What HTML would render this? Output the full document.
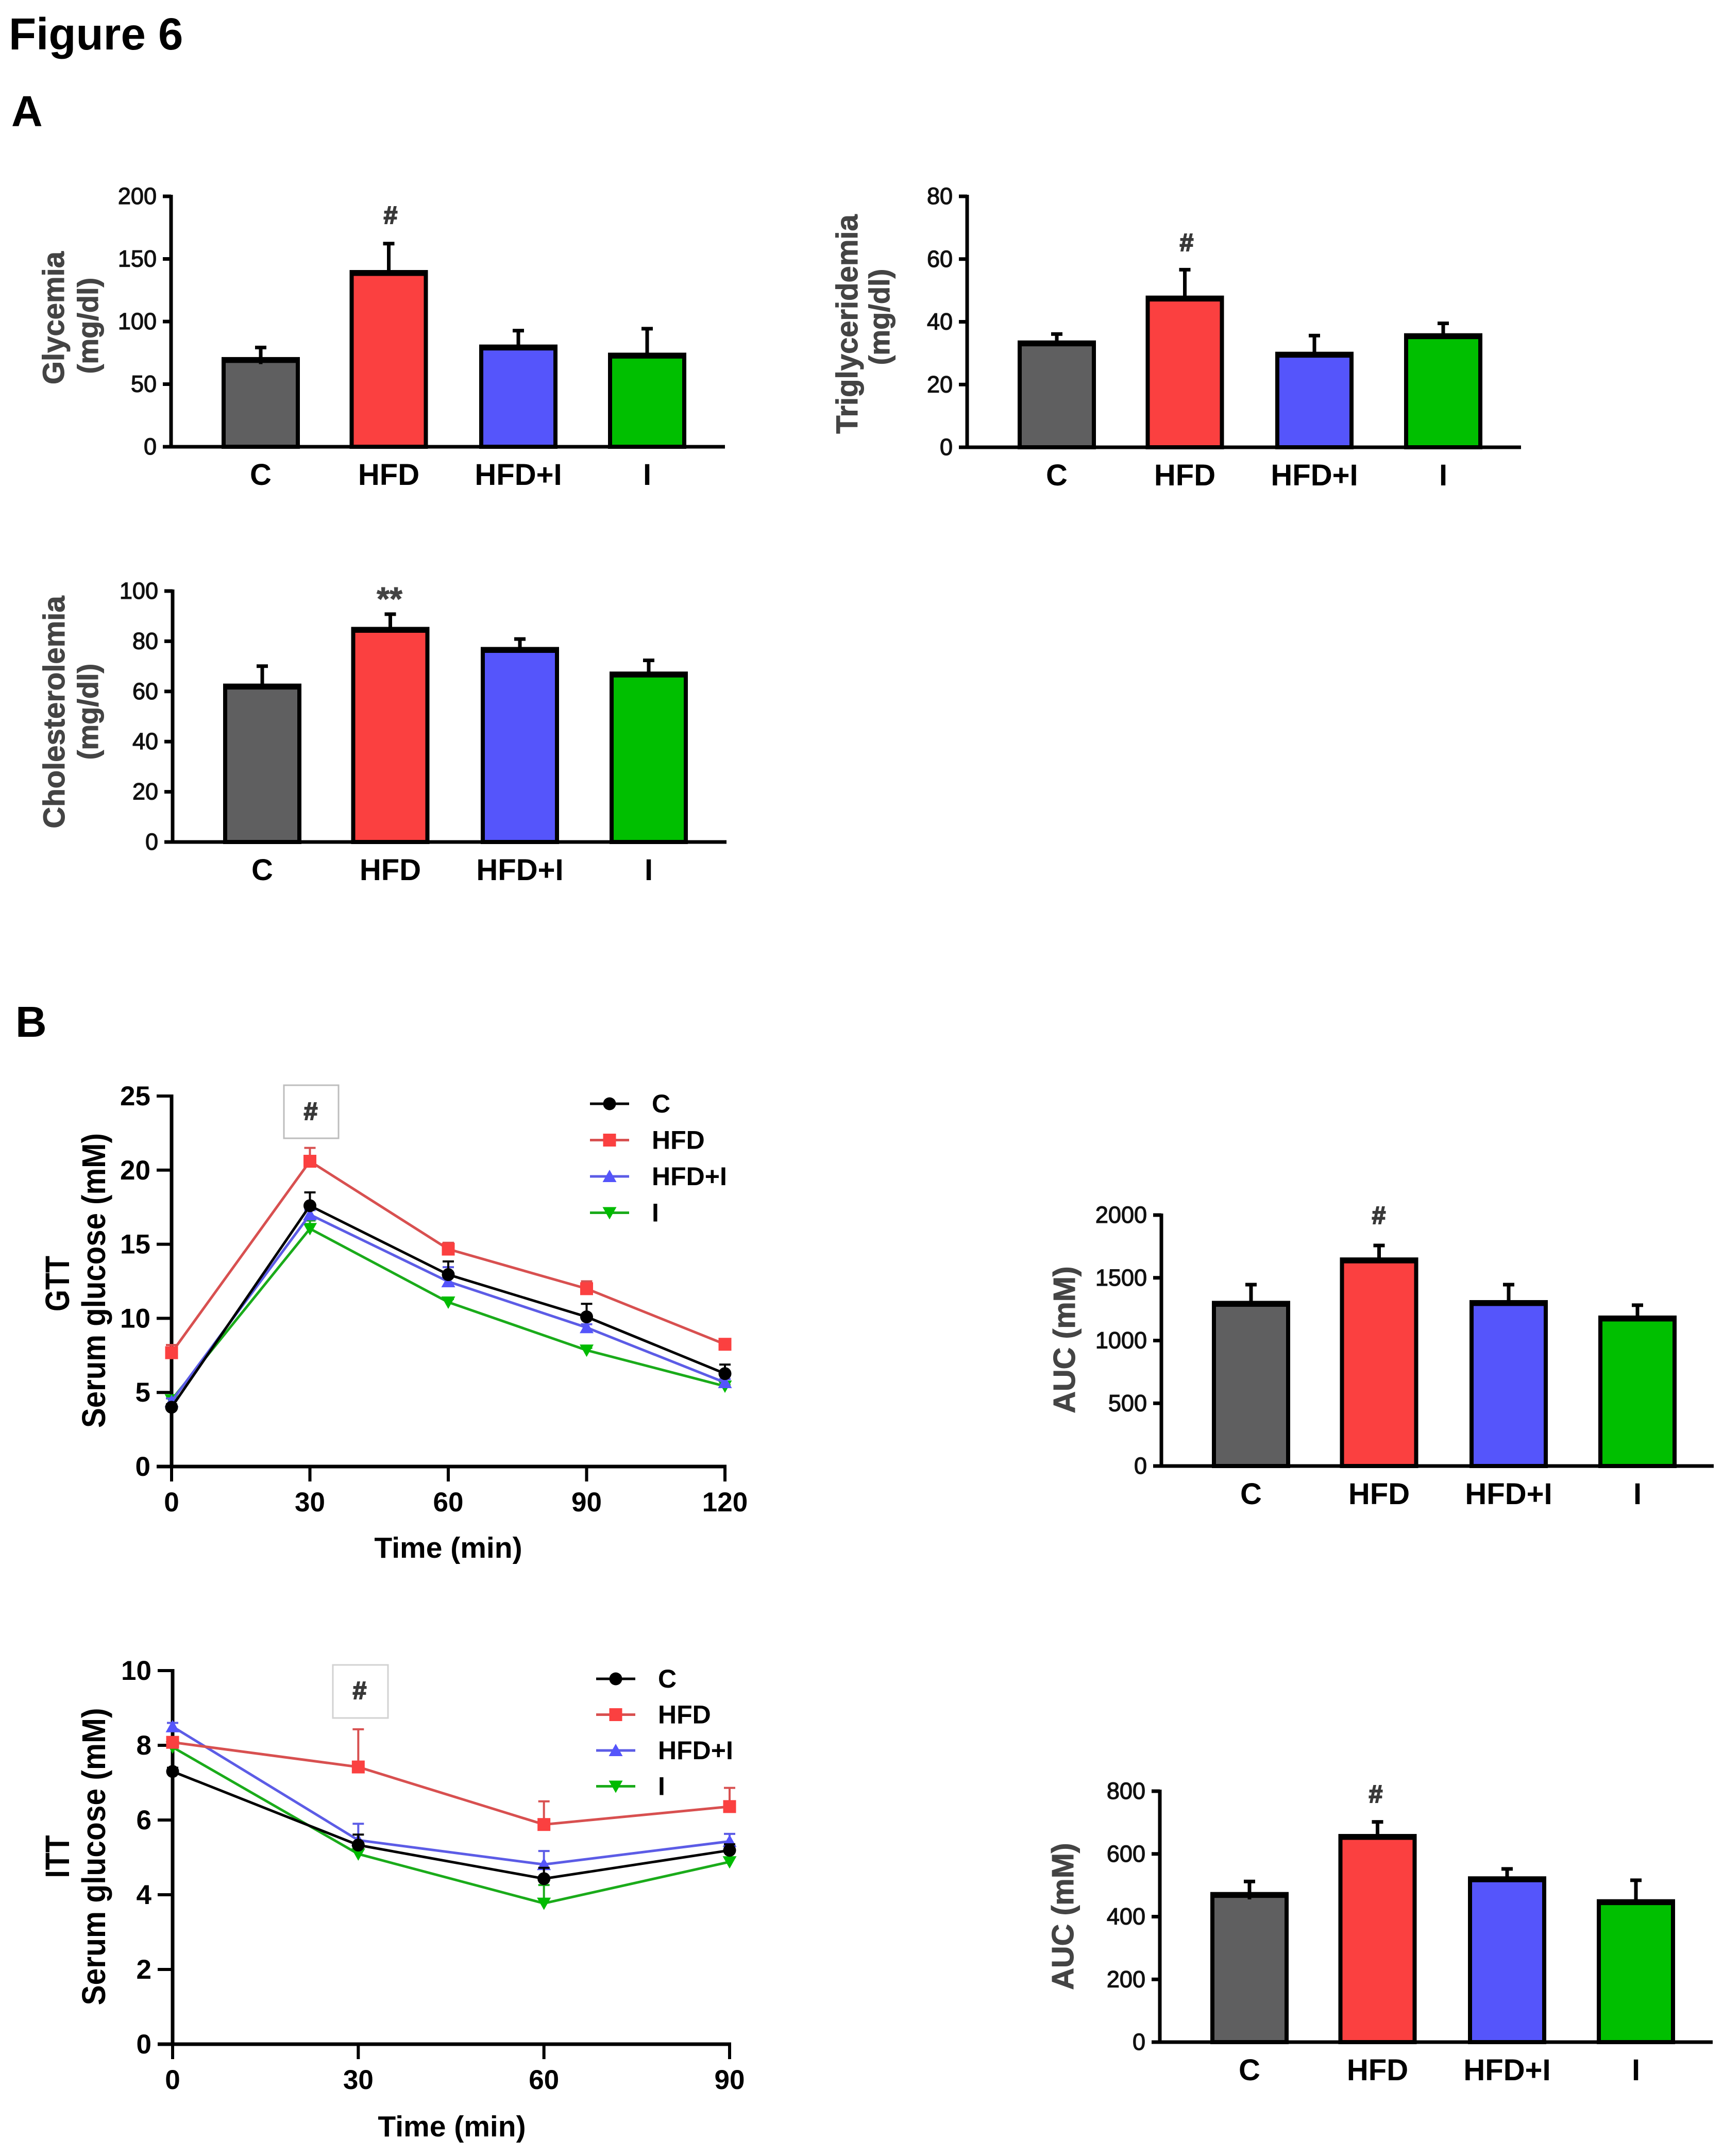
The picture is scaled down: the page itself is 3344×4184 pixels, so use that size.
<!DOCTYPE html>
<html lang="en">
<head>
<meta charset="utf-8">
<title>Figure 6</title>
<style>
html,body{margin:0;padding:0;background:#fff;}
svg{display:block;font-family:"Liberation Sans",Arial,sans-serif;}
.t{font-weight:700;fill:#444;stroke:#444;stroke-width:1;}
.k{font-weight:700;fill:#000;}
.h{font-weight:700;fill:#383838;stroke:#383838;stroke-width:2;font-size:48px;text-anchor:middle;}
</style>
</head>
<body>
<svg id="fig" xmlns="http://www.w3.org/2000/svg" width="3344" height="4184" viewBox="0 0 3344 4184">
  <rect x="0" y="0" width="3344" height="4184" fill="#fff"/>
  <text x="17" y="96" class="k" font-size="87">Figure 6</text>
  <text x="22" y="245" class="k" font-size="84">A</text>
  <text x="30" y="2012" class="k" font-size="84">B</text>

  <text transform="translate(124,617) rotate(-90)" text-anchor="middle" class="t" font-size="58">Glycemia</text>
  <text transform="translate(190,632) rotate(-90)" text-anchor="middle" class="t" font-size="56">(mg/dl)</text>
  <text x="758" y="434" class="h">#</text>

  <text transform="translate(1664,629) rotate(-90)" text-anchor="middle" class="t" font-size="58">Triglyceridemia</text>
  <text transform="translate(1726,615) rotate(-90)" text-anchor="middle" class="t" font-size="56">(mg/dl)</text>
  <text x="2303" y="487" class="h">#</text>

  <text transform="translate(125,1382) rotate(-90)" text-anchor="middle" class="t" font-size="58">Cholesterolemia</text>
  <text transform="translate(190,1381) rotate(-90)" text-anchor="middle" class="t" font-size="56">(mg/dl)</text>
  <text x="756" y="1184" text-anchor="middle" class="t" font-size="64">**</text>

  <text transform="translate(134,2491) rotate(-90)" text-anchor="middle" class="k" font-size="66" textLength="108" lengthAdjust="spacingAndGlyphs">GTT</text>
  <text transform="translate(204,2485) rotate(-90)" text-anchor="middle" class="k" font-size="64" textLength="572" lengthAdjust="spacingAndGlyphs">Serum glucose (mM)</text>
  <text x="870" y="3023" text-anchor="middle" class="k" font-size="57">Time (min)</text>
  <rect x="551" y="2106" width="106" height="103" fill="#fff" stroke="#bdbdbd" stroke-width="3"/>
  <text x="603" y="2173" class="h">#</text>

  <text transform="translate(134,3603) rotate(-90)" text-anchor="middle" class="k" font-size="66" textLength="83" lengthAdjust="spacingAndGlyphs">ITT</text>
  <text transform="translate(204,3603) rotate(-90)" text-anchor="middle" class="k" font-size="64" textLength="577" lengthAdjust="spacingAndGlyphs">Serum glucose (mM)</text>
  <text x="877" y="4146" text-anchor="middle" class="k" font-size="57">Time (min)</text>
  <rect x="646" y="3231" width="107" height="103" fill="#fff" stroke="#d2d2d2" stroke-width="3"/>
  <text x="698" y="3297" class="h">#</text>

  <text transform="translate(2086,2600) rotate(-90)" text-anchor="middle" class="t" font-size="59">AUC (mM)</text>
  <text x="2676" y="2375" class="h">#</text>

  <text transform="translate(2083,3719) rotate(-90)" text-anchor="middle" class="t" font-size="59">AUC (mM)</text>
  <text x="2670" y="3498" class="h">#</text>
</svg>
<script>
// ---- shared categories ----
const barCategories = ['C', 'HFD', 'HFD+I', 'I'];
const barColors = ['#5f5f60', '#fb4040', '#5555fb', '#00bf00'];
const seriesNames = ['C', 'HFD', 'HFD+I', 'I'];
const lineColors = ['#000000', '#d85050', '#5c5ce6', '#1aab1a'];
const markerColors = ['#000000', '#fb4040', '#5555fb', '#00bb00'];
const markerShapes = ['circle', 'square', 'up', 'down'];

// ---- panel A: bar charts ----
const glycemiaTicks = [0, 50, 100, 150, 200];
const glycemiaValues = [70, 139.5, 80, 73.5];
const glycemiaErrUpper = [80.5, 163.5, 94, 95.5];
const glycemiaErrLower = [66, null, null, null];

const triglycTicks = [0, 20, 40, 60, 80];
const triglycValues = [33.4, 47.7, 29.8, 35.7];
const triglycErrUpper = [36.6, 57.1, 36.1, 40];
const triglycErrLower = [null, null, null, null];

const cholTicks = [0, 20, 40, 60, 80, 100];
const cholValues = [62.3, 84.9, 76.9, 67.1];
const cholErrUpper = [70.7, 91.4, 81.5, 73];
const cholErrLower = [60.8, null, null, null];

// ---- panel B: AUC bar charts ----
const aucGttTicks = [0, 500, 1000, 1500, 2000];
const aucGttValues = [1300, 1646, 1306, 1183];
const aucGttErrUpper = [1458, 1770, 1458, 1294];
const aucGttErrLower = [null, null, null, null];

const aucIttTicks = [0, 200, 400, 600, 800];
const aucIttValues = [472, 657, 522, 449];
const aucIttErrUpper = [517, 707, 557, 521];
const aucIttErrLower = [455, null, null, null];

// ---- panel B: GTT curves ----
const gttTimes = [0, 30, 60, 90, 120];
const gttYTicks = [0, 5, 10, 15, 20, 25];
const gttC = [4.0, 17.6, 12.95, 10.1, 6.27];
const gttHFD = [7.68, 20.6, 14.67, 12.0, 8.25];
const gttHFDI = [4.4, 17.0, 12.48, 9.38, 5.67];
const gttI = [4.5, 16.05, 11.09, 7.85, 5.42];
const gttCErr = [4.2, 18.5, 13.84, 10.98, 6.88];
const gttHFDErr = [8.2, 21.5, 15.1, 12.5, 8.5];
const gttHFDIErr = [4.6, 17.3, 13.45, 9.6, 5.9];
const gttIErr = [4.6, 16.6, 11.3, 8.0, 5.5];

// ---- panel B: ITT curves ----
const ittTimes = [0, 30, 60, 90];
const ittYTicks = [0, 2, 4, 6, 8, 10];
const ittC = [7.3, 5.33, 4.43, 5.19];
const ittHFD = [8.08, 7.42, 5.88, 6.36];
const ittHFDI = [8.5, 5.46, 4.81, 5.43];
const ittI = [7.95, 5.09, 3.77, 4.88];
const ittCErr = [7.4, 5.61, 4.72, 5.35];
const ittHFDErr = [8.2, 8.43, 6.5, 6.86];
const ittHFDIErr = [8.6, 5.9, 5.17, 5.63];
const ittIErr = [8.0, 5.2, 4.26, 5.0];

const NS = 'http://www.w3.org/2000/svg';
const fig = document.getElementById('fig');

function make(tag, attrs, parent) {
  const el = document.createElementNS(NS, tag);
  for (const k in attrs) el.setAttribute(k, attrs[k]);
  
  (parent || fig).appendChild(el);
  return el;
}
function linear(d0, d1, r0, r1) {
  return function (v) { return r0 + (v - d0) * (r1 - r0) / (d1 - d0); };
}

function drawBarChart(name, ax, top, bot, xEnd, ticks, values, errUp, errLow) {
  const g = make('g', {});
  
  const y = linear(0, ticks[ticks.length - 1], bot, top);
  const bandX = function (i) { return ax + 174 + 250 * i - (i === 1 ? 1.5 : 0); };

  const yAxis = make('line', { x1: ax, x2: ax, y1: top - 3, y2: bot, stroke: '#000', 'stroke-width': 7 }, g);
  

  ticks.forEach(function (t) {
    const tick = make('line', { x1: ax - 16, x2: ax, y1: y(t), y2: y(t), stroke: '#000', 'stroke-width': 7 }, g);
    
    const label = make('text', { x: ax - 28, y: y(t) + 15, 'text-anchor': 'end', 'font-size': 45, fill: '#111', stroke: '#111', 'stroke-width': 1.3 }, g);
    
    label.textContent = t;
  });

  values.forEach(function (v, i) {
    const c = bandX(i);
    const stem = make('line', { x1: c, x2: c, y1: y(errUp[i]), y2: y(v), stroke: '#000', 'stroke-width': 7 }, g);
    
    const cap = make('line', { x1: c - 11, x2: c + 11, y1: y(errUp[i]) + 3, y2: y(errUp[i]) + 3, stroke: '#000', 'stroke-width': 7 }, g);
    
    const bar = make('rect', { x: c - 72, y: y(v), width: 144, height: bot - y(v), fill: barColors[i], stroke: '#000', 'stroke-width': 8 }, g);
    
    const barTop = make('line', { x1: c - 76, x2: c + 76, y1: y(v) + 2, y2: y(v) + 2, stroke: '#000', 'stroke-width': 11 }, g);
    
    if (errLow[i] !== null) {
      const low = make('line', { x1: c, x2: c, y1: y(v), y2: y(errLow[i]), stroke: '#000', 'stroke-width': 7 }, g);
      
    }
    const cat = make('text', { x: c, y: bot + 74, 'text-anchor': 'middle', 'font-size': 58, 'font-weight': 700, fill: '#000' }, g);
    
    cat.textContent = barCategories[i];
  });

  const xAxis = make('line', { x1: ax - 16, x2: xEnd, y1: bot, y2: bot, stroke: '#000', 'stroke-width': 7 }, g);
  
}

function drawMarker(parent, shape, cx, cy, color) {
  let el;
  if (shape === 'circle') {
    el = make('circle', { cx: cx, cy: cy, r: 12.5, fill: color }, parent);
  } else if (shape === 'square') {
    el = make('rect', { x: cx - 12.5, y: cy - 12.5, width: 25, height: 25, fill: color }, parent);
  } else if (shape === 'up') {
    el = make('polygon', { points: (cx - 13.5) + ',' + (cy + 11) + ' ' + (cx + 13.5) + ',' + (cy + 11) + ' ' + cx + ',' + (cy - 13), fill: color }, parent);
  } else {
    el = make('polygon', { points: (cx - 13.5) + ',' + (cy - 11) + ' ' + (cx + 13.5) + ',' + (cy - 11) + ' ' + cx + ',' + (cy + 13), fill: color }, parent);
  }
  
}

function drawLineChart(name, ax, xEnd, top, bot, times, yTicks, series, errs, legendLeft, legendTop, legendStep) {
  const g = make('g', {});
  
  const x = linear(times[0], times[times.length - 1], ax, xEnd);
  const y = linear(0, yTicks[yTicks.length - 1], bot, top);

  const yAxis = make('line', { x1: ax, x2: ax, y1: top - 3, y2: bot, stroke: '#000', 'stroke-width': 7 }, g);
  
  const xAxis = make('line', { x1: ax - 29, x2: xEnd + 3, y1: bot, y2: bot, stroke: '#000', 'stroke-width': 7 }, g);
  

  yTicks.forEach(function (t) {
    const tick = make('line', { x1: ax - 29, x2: ax, y1: y(t), y2: y(t), stroke: '#000', 'stroke-width': 6 }, g);
    
    const label = make('text', { x: ax - 41, y: y(t) + 18, 'text-anchor': 'end', 'font-size': 53, 'font-weight': 700, fill: '#000' }, g);
    
    label.textContent = t;
  });
  times.forEach(function (t) {
    const tick = make('line', { x1: x(t), x2: x(t), y1: bot, y2: bot + 29, stroke: '#000', 'stroke-width': 6 }, g);
    
    const label = make('text', { x: x(t), y: bot + 87, 'text-anchor': 'middle', 'font-size': 53, 'font-weight': 700, fill: '#000' }, g);
    
    label.textContent = t;
  });

  // draw order: I, HFD+I, HFD, C so the control series sits on top
  [3, 2, 1, 0].forEach(function (s) {
    const sg = make('g', {}, g);
    
    const pts = series[s].map(function (v, i) { return x(times[i]) + ',' + y(v); }).join(' ');
    series[s].forEach(function (v, i) {
      const cx = x(times[i]);
      const stem = make('line', { x1: cx, x2: cx, y1: y(errs[s][i]), y2: y(v), stroke: lineColors[s], 'stroke-width': 4 }, sg);
      
      const cap = make('line', { x1: cx - 11, x2: cx + 11, y1: y(errs[s][i]), y2: y(errs[s][i]), stroke: lineColors[s], 'stroke-width': 4 }, sg);
      
    });
    const line = make('polyline', { points: pts, fill: 'none', stroke: lineColors[s], 'stroke-width': 5 }, sg);
    
    series[s].forEach(function (v, i) {
      drawMarker(sg, markerShapes[s], x(times[i]), y(v), markerColors[s]);
    });
  });

  seriesNames.forEach(function (n, s) {
    const ly = legendTop + legendStep * s;
    const lg = make('g', {}, g);
    
    const sw = make('line', { x1: legendLeft, x2: legendLeft + 76, y1: ly, y2: ly, stroke: lineColors[s], 'stroke-width': 5 }, lg);
    
    drawMarker(lg, markerShapes[s], legendLeft + 38, ly, markerColors[s]);
    const txt = make('text', { x: legendLeft + 120, y: ly + 17, 'font-size': 50, 'font-weight': 700, fill: '#000' }, lg);
    
    txt.textContent = n;
  });
}

drawBarChart('glycemia', 332, 381, 867, 1407, glycemiaTicks, glycemiaValues, glycemiaErrUpper, glycemiaErrLower);
drawBarChart('triglyceridemia', 1877, 381, 868, 2952, triglycTicks, triglycValues, triglycErrUpper, triglycErrLower);
drawBarChart('cholesterolemia', 335, 1147, 1634, 1410, cholTicks, cholValues, cholErrUpper, cholErrLower);
drawBarChart('auc-gtt', 2254, 2358, 2845, 3326, aucGttTicks, aucGttValues, aucGttErrUpper, aucGttErrLower);
drawBarChart('auc-itt', 2251, 3476, 3963, 3324, aucIttTicks, aucIttValues, aucIttErrUpper, aucIttErrLower);

drawLineChart('gtt', 333, 1407, 2127, 2846, gttTimes, gttYTicks,
  [gttC, gttHFD, gttHFDI, gttI], [gttCErr, gttHFDErr, gttHFDIErr, gttIErr], 1145, 2142, 70.5);
drawLineChart('itt', 335, 1416, 3242, 3967, ittTimes, ittYTicks,
  [ittC, ittHFD, ittHFDI, ittI], [ittCErr, ittHFDErr, ittHFDIErr, ittIErr], 1157, 3258, 69.5);
</script>
</body>
</html>
